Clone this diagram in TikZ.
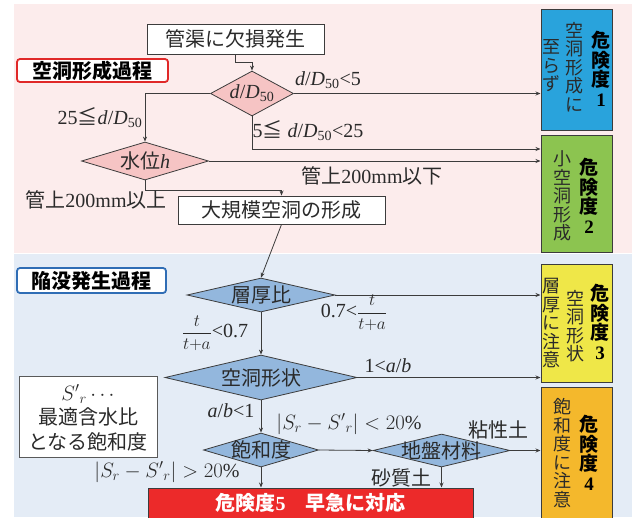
\documentclass[tikz,border=0pt]{standalone}
\usepackage{fontspec}
\setmainfont{Liberation Serif}
\newfontfamily\jp{Noto Sans CJK JP}
\usetikzlibrary{arrows.meta,shapes.geometric,calc}
\definecolor{bgpink}{HTML}{FCECEC}
\definecolor{bgblue}{HTML}{E4ECF6}
\definecolor{dpink}{HTML}{F6C4C4}
\definecolor{dblue}{HTML}{93B7DD}
\definecolor{riskA}{HTML}{29A3DC}
\definecolor{riskB}{HTML}{8CC450}
\definecolor{riskC}{HTML}{EFE748}
\definecolor{riskD}{HTML}{F4B82C}
\definecolor{redc}{HTML}{EC2A2A}
\definecolor{txt}{HTML}{2A2A2A}
\definecolor{edge}{HTML}{3C3C3C}
\definecolor{tagred}{HTML}{E02828}
\definecolor{tagblue}{HTML}{2F6DB5}
\newcommand{\tfrac}{{\fontsize{19}{21}\selectfont$\displaystyle\frac{t}{t{+}a}$}}
\begin{document}
\begin{tikzpicture}[x=1pt,y=-1pt,
 every node/.style={text=txt, font=\fontsize{20}{22}\selectfont},
 arr/.style={draw=edge, line width=0.8pt, -{Stealth[length=5pt,width=4pt]}},
 wbox/.style={draw=edge, fill=white, line width=0.9pt, inner sep=0},
 dia/.style={diamond, draw=edge, line width=0.8pt, inner sep=0, aspect=2},
 rbox/.style={draw=edge, line width=1pt, inner sep=0, minimum width=71pt},
 tag/.style={rounded corners=3pt, line width=1.8pt, fill=white, inner sep=0, font=\jp\bfseries\fontsize{20}{22}\selectfont, text=black},
 vt/.style={align=center, inner sep=0, font=\jp\fontsize{18}{18.5}\selectfont},
 vb/.style={align=center, inner sep=0, font=\jp\bfseries\fontsize{19}{19.5}\selectfont, text=black},
 jt/.style={font=\jp\fontsize{20}{22}\selectfont},
]
\useasboundingbox (0,0) rectangle (632,517);
\fill[bgpink] (14,4) rectangle (632,253);
\fill[bgblue] (14,254) rectangle (632,517);

% tags
\node[tag, draw=tagred, minimum width=151pt, minimum height=23pt] (tg1) at (92.5,70.5) {空洞形成過程};
\node[tag, draw=tagblue, minimum width=149pt, minimum height=25pt] (tg2) at (91.5,280.5) {陥没発生過程};

% boxes
\node[wbox, minimum width=177pt, minimum height=30pt] (start) at (235.5,39) {};
\node[jt] at (start) {管渠に欠損発生};
\node[wbox, minimum width=207pt, minimum height=28pt] (big) at (281.5,210) {};
\node[jt] at (big) {大規模空洞の形成};

% diamonds
\node[dia, fill=dpink, minimum width=83pt, minimum height=45pt] (d1) at (252,93.5) {};
\node at (d1) {\textit{d}/\textit{D}\textsubscript{50}};
\node[dia, fill=dpink, minimum width=127pt, minimum height=38pt] (d2) at (145,161) {};
\node at (d2) {{\jp 水位}\textit{h}};
\node[dia, fill=dblue, minimum width=148pt, minimum height=34pt] (d3) at (261,295) {};
\node[jt] at (d3) {層厚比};
\node[dia, fill=dblue, minimum width=192pt, minimum height=45pt] (d4) at (261,377.5) {};
\node[jt] at (d4) {空洞形状};
\node[dia, fill=dblue, minimum width=115pt, minimum height=34pt] (d5) at (261,450) {};
\node[jt] at (d5) {飽和度};
\node[dia, fill=dblue, minimum width=137pt, minimum height=33pt] (d6) at (441.5,450.5) {};
\node[jt] at (d6) {地盤材料};

% risk boxes
\node[rbox, fill=riskA, minimum height=121pt] (r1) at (576.5,69.5) {};
\node[vt] at (551,66) {至\\ら\\ず};
\node[vt] at (574,67) {空\\洞\\形\\成\\に};
\node[vb] at (601,69) {危\\険\\度\\{\rmfamily\bfseries 1}};

\node[rbox, fill=riskB, minimum height=117pt] (r2) at (576.5,193.5) {};
\node[vt] at (562,196) {小\\空\\洞\\形\\成};
\node[vb] at (589,196) {危\\険\\度\\{\rmfamily\bfseries 2}};

\node[rbox, fill=riskC, minimum height=118pt] (r3) at (576.5,323) {};
\node[vt] at (551,323) {層\\厚\\に\\注\\意};
\node[vt] at (575,326) {空\\洞\\形\\状};
\node[vb] at (600,322) {危\\険\\度\\{\rmfamily\bfseries 3}};

\node[rbox, fill=riskD, minimum height=135pt] (r4) at (576.5,454.5) {};
\node[vt] at (562,453) {飽\\和\\度\\に\\注\\意};
\node[vb] at (589,453) {危\\険\\度\\{\rmfamily\bfseries 4}};

% red result box
\node[rbox, fill=redc, minimum width=325pt, minimum height=34pt] (red) at (310.5,505) {};
\node[font=\jp\bfseries\fontsize{20}{22}\selectfont, text=white] at (310.5,503) {危険度{\rmfamily\bfseries 5}\hspace{1em}早急に対応};

% note box
\node[wbox, draw=gray!70!black, line width=0.6pt, minimum width=138pt, minimum height=81pt] (note) at (88,416.5) {};
\node[align=center, font=\fontsize{20}{24.5}\selectfont] at (88,418) {${S'}_r\cdots$\\{\jp 最適含水比}\\{\jp となる飽和度}};

% connectors
\coordinate (lvl) at (0,149);
\draw[arr] (start.south) -- ++(0,8) -| (d1.north);
\draw[arr] (d1.east) -- (d1.east -| r1.west);
\draw[arr] (d1.west) -| (d2.north);
\draw[arr] (d1.south) |- (lvl -| r2.west);
\draw[arr] (d2.east) -- (d2.east -| r2.west);
\draw[arr] (d2.south) -- ++(0,10) -| (big.north);
\draw[arr] (big.south) -- (d3.north);
\draw[arr] (d3.east) -- (d3.east -| r3.west);
\draw[arr] (d3.south) -- (d4.north);
\draw[arr] (d4.east) -- (d4.east -| r3.west);
\draw[arr] (d4.south) -- (d5.north);
\draw[arr] (d5.east) -- (d6.west);
\draw[arr] (d6.east) -- (d6.east -| r4.west);
\draw[arr] (d5.south) -- (d5.south |- red.north);
\draw[arr] (d6.south) -- (d6.south |- red.north);

% labels
\node (l1) at (328,80) {\textit{d}/\textit{D}\textsubscript{50}<5};
\node (l2) at (308,131) {5{\jp ≦} \textit{d}/\textit{D}\textsubscript{50}<25};
\node (l3) at (100,118) {25{\jp ≦}\textit{d}/\textit{D}\textsubscript{50}};
\node (l4) at (372,176) {{\jp 管上}200mm{\jp 以下}};
\node (l5) at (96,200) {{\jp 管上}200mm{\jp 以上}};
\node (l6) at (215,333) {\tfrac<0.7};
\node (l7) at (354,313) {0.7<\tfrac};
\node (l8) at (388,366) {1<\textit{a}/\textit{b}};
\node (l9) at (231,411) {\textit{a}/\textit{b}<1};
\node (l10) at (349,424) {$|S_r-{S'}_r|<20\%$};
\node (l11) at (167,472) {$|S_r-{S'}_r|>20\%$};
\node[jt] (l12) at (498,430) {粘性土};
\node[jt] (l13) at (401,478) {砂質土};
\end{tikzpicture}
\end{document}
